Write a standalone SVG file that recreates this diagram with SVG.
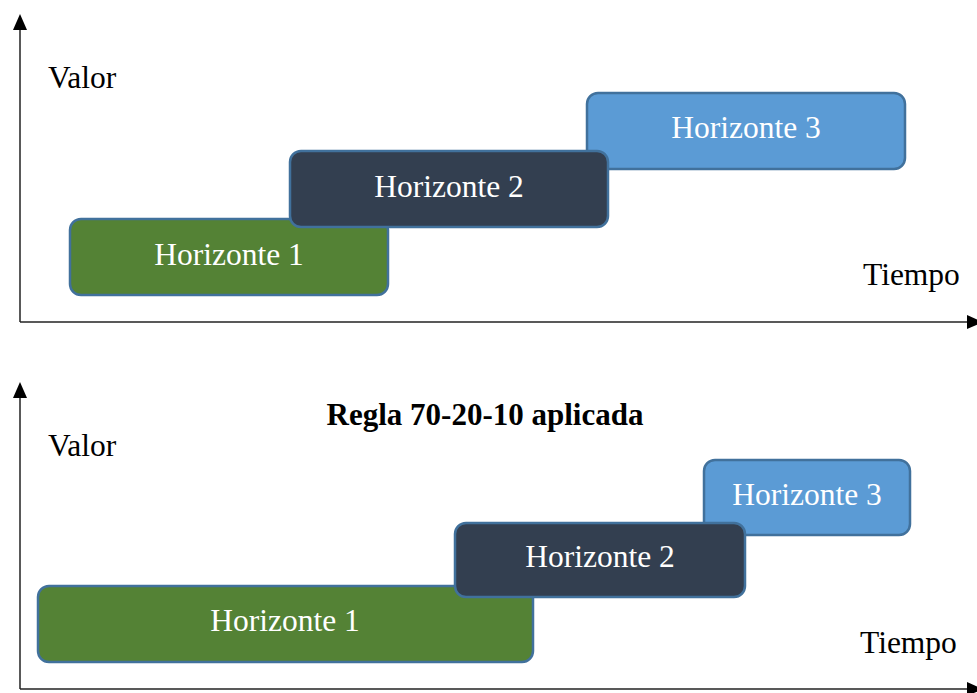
<svg xmlns="http://www.w3.org/2000/svg" width="977" height="693" viewBox="0 0 977 693">
<style>
.ax{stroke:#222;stroke-width:1.5;fill:none}
.ah{fill:#000}
.lbl{font-family:"Liberation Serif","Times New Roman",serif;font-size:31.5px;fill:#000}
.title{font-family:"Liberation Serif","Times New Roman",serif;font-size:31px;font-weight:bold;fill:#000}
.box{stroke:#41719C;stroke-width:2.5}
.g{fill:#548235}
.d{fill:#333F50}
.b{fill:#5B9BD5}
.bt{font-family:"Liberation Serif","Times New Roman",serif;font-size:31.5px;fill:#fff;text-anchor:middle}
</style>
<rect width="977" height="693" fill="#fff"/>
<g id="connectors">
<line class="ax" x1="20" y1="28" x2="20" y2="322"/>
<line class="ax" x1="20" y1="322" x2="968" y2="322"/>
<polygon class="ah" points="20,14 13,30 27,30"/>
<polygon class="ah" points="983,322 967,315 967,329"/>
<line class="ax" x1="20" y1="396" x2="20" y2="689"/>
<line class="ax" x1="20" y1="689" x2="968" y2="689"/>
<polygon class="ah" points="20,382 13,398 27,398"/>
<polygon class="ah" points="983,689 967,682 967,696"/>
</g>
<g id="top-labels">
<text class="lbl" x="48" y="88">Valor</text>
<text class="lbl" x="863" y="285">Tiempo</text>
</g>
<g id="top-h1"><rect class="box g" x="70" y="219" width="318" height="76" rx="11"/><text class="bt" x="229" y="265">Horizonte 1</text></g>
<g id="top-h3"><rect class="box b" x="587" y="93" width="318" height="76" rx="11"/><text class="bt" x="746" y="138">Horizonte 3</text></g>
<g id="top-h2"><rect class="box d" x="290" y="151" width="318" height="76" rx="11"/><text class="bt" x="449" y="197">Horizonte 2</text></g>
<g id="bottom-labels">
<text class="title" x="485" y="425" text-anchor="middle">Regla 70-20-10 aplicada</text>
<text class="lbl" x="48" y="456">Valor</text>
<text class="lbl" x="860" y="653">Tiempo</text>
</g>
<g id="bottom-h1"><rect class="box g" x="38" y="586" width="495" height="76" rx="11"/><text class="bt" x="285" y="631">Horizonte 1</text></g>
<g id="bottom-h3"><rect class="box b" x="704" y="460" width="206" height="75" rx="11"/><text class="bt" x="807" y="505">Horizonte 3</text></g>
<g id="bottom-h2"><rect class="box d" x="455" y="523" width="290" height="74" rx="11"/><text class="bt" x="600" y="567">Horizonte 2</text></g>
</svg>
